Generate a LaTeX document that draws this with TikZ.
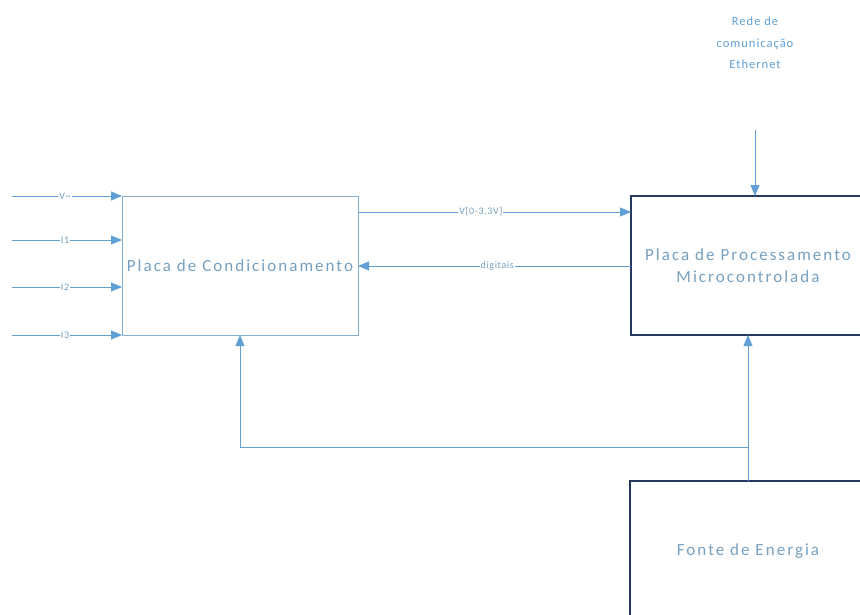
\documentclass[tikz,border=0pt]{standalone}
\usepackage{fontspec}
\setmainfont{Carlito}
\usetikzlibrary{arrows.meta}
\definecolor{lineblue}{RGB}{96,160,212}
\definecolor{txtblue}{RGB}{118,160,192}
\definecolor{navy}{RGB}{36,56,98}
\definecolor{lightborder}{RGB}{130,175,210}
\tikzset{
  conn/.style={draw=lineblue, line width=0.9pt, -{Triangle[length=11pt,width=9pt]}},
  lbl/.style={fill=white, text=txtblue, font=\fontsize{10}{11}\selectfont\addfontfeatures{LetterSpace=6}, inner sep=1pt},
  boxtxt/.style={text=txtblue, font=\fontsize{17}{22}\selectfont\addfontfeatures{LetterSpace=12}, align=center},
}
\begin{document}
\begin{tikzpicture}[x=1pt,y=-1pt]
\useasboundingbox (0,0) rectangle (860,614);
% boxes
\draw[lightborder, line width=0.9pt] (122,196) rectangle (358,335);
\node[boxtxt] (cond) at (240,266) {Placa de Condicionamento};
\coordinate (condS) at (240,335);
\draw[navy, line width=1.2pt] (866,196) -- (631,196) -- (631,335) -- (866,335);
\node[boxtxt] (proc) at (748,266) {Placa de Processamento\\Microcontrolada};
\draw[navy, line width=1.2pt] (866,481) -- (630,481) -- (630,620);
\node[boxtxt] (fonte) at (748,551) {Fonte de Energia};
% ethernet
\node[text=lineblue, font=\fontsize{12.5}{21.5}\selectfont\addfontfeatures{LetterSpace=8}, align=center] (eth) at (755,43) {Rede de\\comunicação\\Ethernet};
\coordinate (ethS) at (755,130);
\coordinate (procN) at (755,196);
\draw[conn] (ethS) -- (procN);
% inputs
\foreach \y/\t/\n in {196/V\textasciitilde/a, 240/I1/b, 287/I2/c, 335/I3/d}{
  \coordinate (in\n) at (12,\y);
  \coordinate (end\n) at (122,\y);
  \draw[conn] (in\n) -- (end\n);
  \node[lbl] (l\n) at (65,\y) {\t};
}
% between boards
\coordinate (c1) at (358,212);
\coordinate (p1) at (631,212);
\draw[conn] (c1) -- (p1) node[lbl, pos=0.45] (lv) {V[0-3.3V]};
\coordinate (p2) at (631,266);
\coordinate (c2) at (358,266);
\draw[conn] (p2) -- (c2) node[lbl, pos=0.49] (ld) {digitais};
% power
\coordinate (fN) at (748,481);
\coordinate (pS) at (748,335);
\coordinate (j) at (748,447);
\coordinate (k) at (240,447);
\draw[conn] (fN) -- (pS);
\draw[conn] (j) -- (k) -- (condS);
\end{tikzpicture}
\end{document}
